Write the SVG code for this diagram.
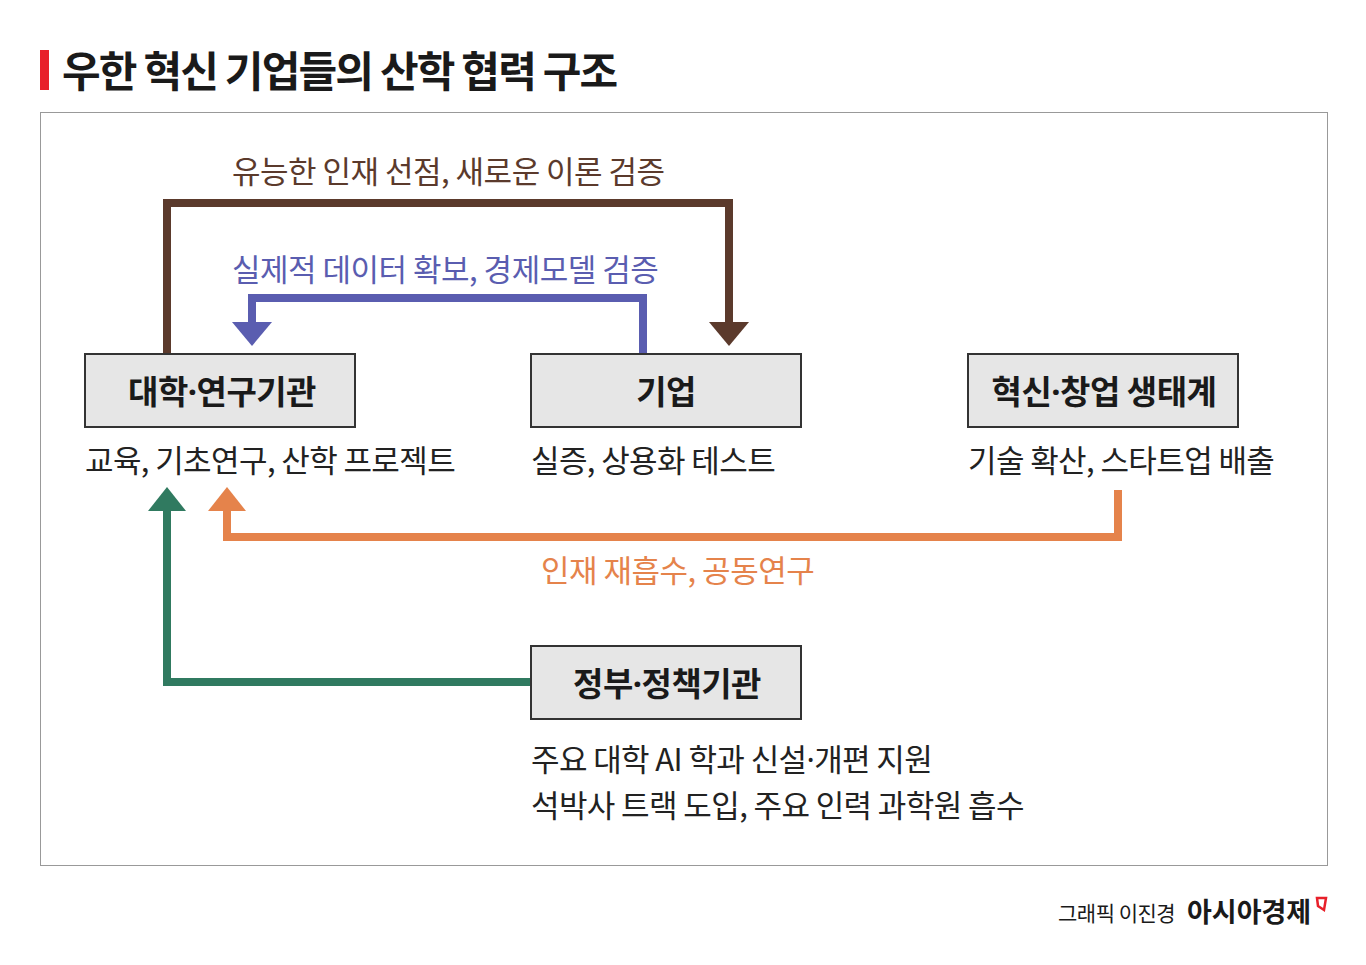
<svg xmlns="http://www.w3.org/2000/svg" width="1366" height="965" viewBox="0 0 1366 965">
<defs>
<style>
text{font-family:"Noto Sans CJK KR","Noto Sans",sans-serif;}
.title{font-size:42px;font-weight:700;fill:#1a1a1a;letter-spacing:-1.8px;}
.box{fill:#e6e6e6;stroke:#333;stroke-width:2;}
.bt{font-size:33px;font-weight:700;fill:#1a1a1a;letter-spacing:-0.5px;text-anchor:middle;}
.sub{font-size:31px;fill:#222;letter-spacing:-0.6px;}
.lbl{font-size:31px;letter-spacing:-0.5px;}
.dot{font-family:"Noto Sans",sans-serif;}
.ln{fill:none;stroke-width:8;stroke-linejoin:miter;stroke-linecap:butt;}
</style>
<marker id="hb" viewBox="0 0 24 40" markerWidth="24" markerHeight="40" refX="0" refY="20" orient="auto" markerUnits="userSpaceOnUse"><path d="M0,0 L24,20 L0,40 Z" fill="#5b3a2c"/></marker>
<marker id="hu" viewBox="0 0 24 40" markerWidth="24" markerHeight="40" refX="0" refY="20" orient="auto" markerUnits="userSpaceOnUse"><path d="M0,0 L24,20 L0,40 Z" fill="#5a5db0"/></marker>
<marker id="ho" viewBox="0 0 24 38" markerWidth="24" markerHeight="38" refX="0" refY="19" orient="auto" markerUnits="userSpaceOnUse"><path d="M0,0 L24,19 L0,38 Z" fill="#e5834b"/></marker>
<marker id="hg" viewBox="0 0 24 38" markerWidth="24" markerHeight="38" refX="0" refY="19" orient="auto" markerUnits="userSpaceOnUse"><path d="M0,0 L24,19 L0,38 Z" fill="#307a60"/></marker>
</defs>
<rect x="0" y="0" width="1366" height="965" fill="#fff"/>
<g id="title">
<rect x="40" y="50" width="9" height="40" fill="#e8202a"/>
<text class="title" x="62" y="87">우한 혁신 기업들의 산학 협력 구조</text>
</g>
<rect id="frame" x="40.5" y="112.5" width="1287" height="753" fill="none" stroke="#999" stroke-width="1"/>
<g id="connectors">
<path class="ln" stroke="#5b3a2c" d="M167,354 V203 H729 V322" marker-end="url(#hb)"/>
<path class="ln" stroke="#5a5db0" d="M643,354 V298 H252 V322" marker-end="url(#hu)"/>
<path class="ln" stroke="#e5834b" d="M1118,490 V537 H227 V511" marker-end="url(#ho)"/>
<path class="ln" stroke="#307a60" d="M531,682 H167 V511" marker-end="url(#hg)"/>
<text class="lbl" x="232" y="183" fill="#5b3a2c">유능한 인재 선점, 새로운 이론 검증</text>
<text class="lbl" x="232" y="281" fill="#5a5db0">실제적 데이터 확보, 경제모델 검증</text>
<text class="lbl" x="541" y="582" fill="#e5834b">인재 재흡수, 공동연구</text>
</g>
<g id="node-univ">
<rect class="box" x="85" y="354" width="270" height="73"/>
<text class="bt" x="222" y="404">대학<tspan class="dot">·</tspan>연구기관</text>
<text class="sub" x="85" y="472">교육, 기초연구, 산학 프로젝트</text>
</g>
<g id="node-company">
<rect class="box" x="531" y="354" width="270" height="73"/>
<text class="bt" x="666" y="404">기업</text>
<text class="sub" x="531" y="472">실증, 상용화 테스트</text>
</g>
<g id="node-eco">
<rect class="box" x="968" y="354" width="270" height="73"/>
<text class="bt" x="1104" y="404">혁신<tspan class="dot">·</tspan>창업 생태계</text>
<text class="sub" x="968" y="472">기술 확산, 스타트업 배출</text>
</g>
<g id="node-gov">
<rect class="box" x="531" y="646" width="270" height="73"/>
<text class="bt" x="667" y="696">정부<tspan class="dot">·</tspan>정책기관</text>
<text class="sub" x="531" y="771">주요 대학 AI 학과 신설<tspan class="dot">·</tspan>개편 지원</text>
<text class="sub" x="531" y="817">석박사 트랙 도입, 주요 인력 과학원 흡수</text>
</g>
<g id="credit">
<text x="1058" y="921" font-size="21" fill="#1a1a1a" letter-spacing="-0.5">그래픽 이진경</text>
<text x="1187" y="922" font-size="27" font-weight="700" fill="#1a1a1a" letter-spacing="0">아시아경제</text>
<path d="M1317,898 H1326 L1324,910 L1318,906 Z" fill="none" stroke="#e8202a" stroke-width="2.5"/>
</g>
</svg>
